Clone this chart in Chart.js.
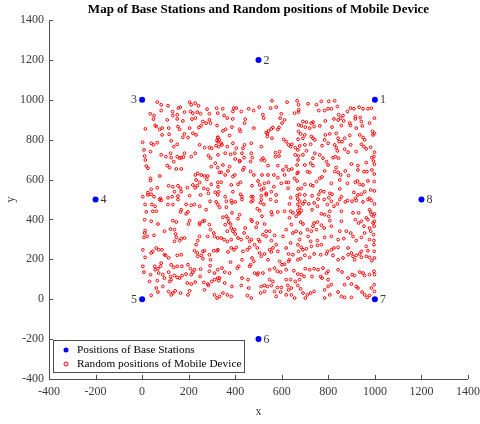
<!DOCTYPE html>
<html>
<head>
<meta charset="utf-8">
<script src="https://cdn.jsdelivr.net/npm/chart.js@4.4.0/dist/chart.umd.min.js"></script>
<style>
  html, body { margin: 0; padding: 0; background: #fff; }
  #wrap { width: 480px; height: 424px; }
</style>
</head>
<body>
<div id="wrap"><canvas id="map" width="480" height="424"></canvas></div>
<script>
// --- Dados ---
const chartTitle = 'Map of Base Stations and Random positions of Mobile Device';
const axisTicks = [-400, -200, 0, 200, 400, 600, 800, 1000, 1200, 1400];

// estações base (x, y, rótulo)
const baseX = [1000, 500, 0, -200, 0, 500, 1000, 1200];
const baseY = [1000, 1200, 1000, 500, 0, -200, 0, 500];
const baseLabels = ['1', '2', '3', '4', '5', '6', '7', '8'];

const legendLabels = ['Positions of Base Stations', 'Random positions of Mobile Device'];

// posições dos móveis (x, y)
const mobilePoints = [
  [65,988],[82,975],[111,970],[156,958],[164,963],[204,988],[211,975],[228,983],[242,970],[279,953],[320,958],
  [35,930],[51,921],[82,946],[131,941],[132,921],[151,925],[182,938],[208,941],[218,933],[237,938],[251,930],[289,930],[325,933],
  [49,903],[108,899],[151,904],[175,894],[214,903],[229,908],[261,891],[289,899],[294,883],
  [14,854],[56,871],[61,866],[75,851],[86,858],[114,858],[154,866],[161,852],[204,858],[244,861],[254,871],[275,883],[322,871],
  [86,824],[116,827],[182,829],[197,811],[218,832],[232,824],[175,812],[325,811],[331,799],[321,796],
  [2,787],[39,782],[49,774],[65,785],[125,794],[151,777],[136,765],[247,774],[268,760],[289,760],[299,757],[318,770],[329,765],
  [8,749],[36,740],[11,718],[82,724],[102,715],[125,710],[122,732],[151,715],[161,707],[168,710],[178,713],[182,732],[211,715],[228,732],[285,720],[294,707],[14,698],[136,690],
  [18,668],[25,657],[108,670],[118,660],[168,653],[147,653],[239,631],[297,665],[314,682],[325,660],
  [36,606],[36,595],[76,618],[229,623],[254,623],[268,618],[282,618],[232,598],[247,586],[278,601],[297,576],[237,569],[228,559],[325,586],
  [39,551],[65,559],[25,534],[39,526],[114,569],[132,564],[154,569],[165,556],[139,539],[168,539],[194,559],[218,573],[265,556],[282,551],[285,531],[251,523],[204,519],[154,517],[129,514],[111,509],[79,506],[51,514],[3,514],[25,523],[314,536],[325,523],

  [558,995],[623,988],[666,995],[346,955],[393,958],[405,958],[390,941],[458,955],[479,946],[503,963],[552,958],[576,963],[672,975],[426,941],
  [352,921],[366,908],[389,904],[443,903],[440,883],[519,925],[522,908],[598,930],[593,908],[612,899],[655,933],[672,938],[672,874],[601,883],
  [347,844],[359,852],[386,863],[419,852],[422,841],[480,858],[555,854],[562,861],[543,844],[533,836],[538,816],[558,807],[538,829],[583,852],[588,861],[326,811],[376,821],[672,841],
  [326,790],[340,782],[343,774],[366,765],[390,782],[405,757],[433,757],[440,774],[469,782],[512,765],[608,802],[619,790],[629,774],[638,765],[643,777],[658,760],[669,749],
  [326,724],[357,732],[380,727],[398,732],[400,703],[429,732],[438,710],[469,732],[473,710],[519,707],[526,695],[573,735],[572,715],[591,740],[588,718],[658,724],[672,718],[419,695],
  [347,673],[376,665],[419,690],[438,660],[466,690],[512,698],[541,670],[583,670],[605,648],[619,665],[629,648],[643,653],[666,673],[666,631],
  [332,636],[340,636],[369,643],[357,623],[390,615],[398,623],[433,648],[466,640],[515,623],[480,623],[498,593],[541,623],[566,623],[583,610],[612,623],[619,586],[655,606],[666,593],
  [326,564],[340,586],[383,573],[412,576],[423,586],[472,569],[505,573],[526,581],[543,586],[512,548],[523,556],[533,531],[566,564],[598,581],[627,556],[629,586],
  [329,539],[357,514],[390,539],[423,526],[429,514],[469,514],[476,514],[512,519],[533,523],[576,523],[638,509],[666,519],[669,502],[555,539],

  [713,980],[749,975],[770,992],[802,992],[827,995],[839,966],[813,955],[799,955],[784,946],[759,946],[895,958],[910,955],[932,963],[949,955],[970,955],[985,958],[882,941],[673,950],
  [844,925],[863,921],[853,908],[866,894],[842,899],[824,904],[787,894],[916,916],[937,911],[942,891],[916,904],[892,883],[895,871],[691,891],[706,888],[727,883],[734,888],[977,883],[998,908],
  [684,869],[701,863],[720,858],[739,866],[763,869],[816,863],[856,871],[920,858],[946,869],[990,841],[992,824],[998,832],
  [681,829],[699,824],[727,816],[734,807],[742,799],[784,799],[787,824],[806,829],[834,832],[842,807],[870,807],[892,821],[935,824],[949,811],[956,799],[670,802],[691,807],
  [699,774],[677,769],[724,777],[773,770],[799,782],[827,774],[834,760],[846,790],[859,790],[839,744],[870,752],[896,774],[942,777],[953,765],[963,754],[982,762],[706,744],
  [691,724],[742,732],[763,724],[734,707],[777,707],[792,690],[820,710],[830,715],[844,707],[885,737],[920,740],[987,710],[996,715],[998,737],[670,698],
  [699,673],[724,682],[734,670],[799,673],[834,660],[899,678],[927,670],[963,685],[994,693],[998,677],[670,636],[720,636],[710,640],
  [784,643],[827,640],[842,636],[853,623],[873,643],[887,620],[927,648],[953,640],[966,640],[987,648],[997,628],[997,590],[763,606],[773,613],
  [699,576],[724,573],[734,569],[749,590],[813,581],[849,598],[882,581],[916,586],[925,593],[935,576],[949,573],[970,593],[684,556],[670,553],
  [677,526],[699,523],[730,519],[759,526],[767,543],[781,539],[806,531],[816,526],[849,553],[856,514],[910,536],[927,523],[942,526],[956,539],[982,548],[998,543],[756,502],[802,509],[916,506],[977,506],

  [13,475],[42,475],[75,500],[82,495],[111,475],[132,475],[154,500],[189,475],[211,471],[225,475],[247,466],[292,491],[325,475],[318,488],[56,466],[46,441],[61,441],[168,449],[165,438],[189,428],[197,438],[275,449],[18,438],
  [11,399],[39,391],[68,377],[132,394],[147,387],[204,394],[199,377],[247,382],[261,391],[268,394],[247,374],[289,374],[294,349],[308,332],[311,315],[325,307],
  [13,344],[11,332],[8,310],[22,315],[51,320],[96,341],[122,352],[139,349],[144,327],[147,310],[168,304],[161,294],[182,307],[139,290],[239,294],[247,315],[232,273],[282,315],
  [3,248],[46,240],[61,257],[71,248],[85,248],[96,223],[101,220],[39,232],[114,207],[151,220],[168,223],[225,243],[237,232],[239,215],[254,220],[261,240],[268,243],[308,243],[322,243],[289,223],[294,198],[261,203],[13,210],
  [3,165],[54,165],[56,148],[68,153],[79,165],[82,181],[125,173],[136,160],[151,165],[171,165],[197,173],[208,153],[225,148],[251,151],[292,168],[325,148],[8,136],[36,123],[71,131],[89,123],[96,106],[114,136],[122,114],[139,119],[151,109],[161,106],[172,119],[189,126],[211,123],[218,136],[249,114],[289,140],[311,131],
  [32,89],[65,93],[118,89],[125,98],[89,64],[61,56],[194,81],[211,76],[228,86],[265,84],[282,76],[285,69],[299,89],[311,98],[325,106],[68,36],[39,19],[114,39],[125,22],[132,31],[142,42],[165,31],[204,42],[197,22],[311,22],[322,6],[268,47],

  [362,491],[383,495],[386,483],[400,488],[429,500],[469,488],[476,495],[512,500],[509,483],[523,475],[552,500],[576,491],[633,478],[669,475],[333,461],[362,461],[386,433],[412,404],[419,424],[469,399],[472,391],[495,454],[505,444],[555,438],[558,424],[583,438],[612,441],[638,441],[648,433],[669,444],[662,416],[672,428],[633,408],[515,416],
  [347,411],[362,416],[369,404],[372,387],[380,377],[357,374],[383,357],[398,349],[366,341],[390,341],[400,327],[383,299],[366,290],[352,299],[340,307],[412,307],[426,299],[438,332],[452,310],[462,290],[469,299],[443,357],[490,361],[495,382],[526,377],[533,341],[548,341],[519,324],[533,315],[500,299],[505,290],[555,294],[569,320],[605,315],[619,349],[641,374],[648,332],[662,341],[669,273],[638,282],
  [326,248],[369,237],[383,257],[395,248],[405,260],[433,240],[452,248],[462,260],[483,273],[495,257],[505,232],[526,227],[548,248],[562,257],[555,237],[576,273],[583,240],[619,257],[629,227],[648,223],[672,240],[380,186],[429,198],[415,165],[472,207],[480,190],[466,173],[512,215],[541,198],[591,190],[601,173],[612,176],[629,190],[633,198],[669,198],
  [343,156],[355,136],[376,131],[409,156],[462,165],[483,131],[498,131],[519,131],[548,148],[569,156],[581,140],[595,136],[619,148],[652,143],[669,126],[333,106],[329,93],[355,81],[429,106],[455,98],[495,123],[548,98],[562,89],[619,98],[638,98],[658,89],
  [386,64],[426,69],[458,56],[512,64],[526,69],[538,64],[555,69],[581,59],[598,59],[626,69],[629,47],[641,56],[669,69],[347,31],[333,14],[366,22],[383,14],[452,19],[469,6],[509,31],[526,39],[569,39],[576,14],[595,36],[641,22],[619,22],[655,6],

  [677,491],[691,478],[699,491],[716,478],[739,483],[782,500],[796,475],[813,491],[849,500],[839,478],[873,488],[882,495],[902,491],[920,495],[949,488],[985,495],[998,478],[970,500],[677,461],[684,444],[677,433],[730,449],[753,466],[770,428],[784,424],[806,441],[802,416],[824,466],[856,441],[906,433],[930,433],[977,449],[982,438],[985,424],[998,428],[963,408],[970,399],[994,416],
  [681,387],[691,377],[739,382],[753,387],[782,357],[806,394],[856,391],[916,399],[930,382],[942,391],[953,366],[977,357],[992,382],[998,391],[997,366],[681,332],[713,315],[710,349],[734,366],[727,341],[749,349],[770,371],[813,366],[849,341],[877,341],[896,332],[906,315],[920,294],[956,332],[982,341],[994,324],
  [677,299],[724,290],[753,294],[784,310],[813,315],[842,299],[867,304],[942,310],[977,299],[996,294],[684,260],[691,248],[706,253],[727,265],[753,270],[770,273],[796,240],[813,248],[824,257],[842,260],[885,257],[899,232],[942,240],[963,265],[970,243],[996,273],[997,240],
  [699,220],[720,210],[739,227],[767,223],[792,227],[820,220],[842,198],[863,207],[885,223],[906,215],[913,198],[935,227],[920,220],[942,210],[963,215],[977,210],[987,193],[998,207],[681,203],
  [720,148],[701,153],[739,153],[756,148],[777,156],[792,131],[799,140],[842,148],[859,136],[885,106],[902,123],[913,119],[935,136],[949,131],[956,119],[977,123],[996,140],[998,123],[684,123],[677,98],[696,114],[730,114],[767,114],[773,106],[799,98],
  [813,73],[870,73],[899,76],[920,64],[927,56],[985,56],[997,73],[681,52],[691,31],[710,22],[724,31],[739,39],[784,47],[799,64],[784,6],[806,22],[842,36],[856,14],[870,9],[899,9],[945,36],[956,22],[967,9],[977,19],[998,39],[701,6]
];

// --- Estilo ---
const SERIF = "'Liberation Serif', 'Times New Roman', serif";
const AXIS_COLOR = '#4d4d4d';
const TEXT_COLOR = '#3a3a3a';
const BLUE = '#0000ff';
const RED = '#ff0000';

// desenha título, eixos com ticks internos, rótulos das estações e legenda
const decorPlugin = {
  id: 'decor',
  afterDraw(chart) {
    const ctx = chart.ctx;
    const area = chart.chartArea;
    const xs = chart.scales.x;
    const ys = chart.scales.y;
    ctx.save();

    // eixos
    ctx.strokeStyle = AXIS_COLOR;
    ctx.lineWidth = 1;
    ctx.beginPath();
    ctx.moveTo(Math.round(area.left) + 0.5, area.top);
    ctx.lineTo(Math.round(area.left) + 0.5, Math.round(area.bottom) + 0.5);
    ctx.lineTo(area.right, Math.round(area.bottom) + 0.5);
    ctx.stroke();

    ctx.beginPath();
    xs.ticks.forEach(t => {
      const px = Math.round(xs.getPixelForValue(t.value)) + 0.5;
      ctx.moveTo(px, area.bottom);
      ctx.lineTo(px, area.bottom - 4);
    });
    ys.ticks.forEach(t => {
      const py = Math.round(ys.getPixelForValue(t.value)) + 0.5;
      ctx.moveTo(area.left, py);
      ctx.lineTo(area.left + 4, py);
    });
    ctx.stroke();

    // título
    ctx.fillStyle = '#000';
    ctx.font = 'bold 13px ' + SERIF;
    ctx.textAlign = 'center';
    ctx.textBaseline = 'middle';
    ctx.fillText(chartTitle, (area.left + area.right) / 2, 10);

    // rótulos das estações
    ctx.font = '12px ' + SERIF;
    ctx.fillStyle = TEXT_COLOR;
    baseLabels.forEach((lab, i) => {
      const px = xs.getPixelForValue(baseX[i]);
      const py = ys.getPixelForValue(baseY[i]);
      if (lab === '3' || lab === '5') {
        ctx.textAlign = 'right';
        ctx.fillText(lab, px - 5, py + 0.5);
      } else {
        ctx.textAlign = 'left';
        ctx.fillText(lab, px + 5, py + 0.5);
      }
    });

    // legenda
    const lx = 53.5, ly = 340.5, lw = 191, lh = 32;
    ctx.fillStyle = '#fff';
    ctx.fillRect(lx, ly, lw, lh);
    ctx.strokeStyle = AXIS_COLOR;
    ctx.strokeRect(lx, ly, lw, lh);
    ctx.fillStyle = BLUE;
    ctx.beginPath();
    ctx.arc(66, 350, 2.5, 0, Math.PI * 2);
    ctx.fill();
    ctx.strokeStyle = RED;
    ctx.lineWidth = 1;
    ctx.beginPath();
    ctx.arc(66, 364, 2, 0, Math.PI * 2);
    ctx.stroke();
    ctx.fillStyle = '#000';
    ctx.textAlign = 'left';
    ctx.font = '11.3px ' + SERIF;
    ctx.fillText(legendLabels[0], 77, 350);
    ctx.fillText(legendLabels[1], 77, 364);

    ctx.restore();
  }
};

function axisOptions(title, isX) {
  return {
    type: 'linear',
    min: axisTicks[0],
    max: axisTicks[axisTicks.length - 1],
    afterBuildTicks(scale) {
      scale.ticks = axisTicks.map(v => ({ value: v }));
    },
    afterFit(scale) {
      // tamanho fixo da área do gráfico, sem margem extra por causa dos rótulos
      scale.paddingLeft = 0;
      scale.paddingRight = 0;
      scale.paddingTop = 0;
      scale.paddingBottom = 0;
      if (isX) scale.height = 45; else scale.width = 49;
    },
    grid: { display: false, drawTicks: false },
    border: { display: false },
    ticks: {
      padding: isX ? 6 : 5,
      color: TEXT_COLOR,
      font: { family: SERIF, size: 12 },
      maxRotation: 0,
      autoSkip: false,
      callback: v => String(v)
    },
    title: {
      display: true,
      text: title,
      color: TEXT_COLOR,
      font: { family: SERIF, size: 12 },
      padding: { top: 4, bottom: 5 }
    }
  };
}

new Chart(document.getElementById('map'), {
  type: 'scatter',
  data: {
    datasets: [
      {
        label: legendLabels[0],
        data: baseX.map((x, i) => ({ x: x, y: baseY[i] })),
        backgroundColor: BLUE,
        borderColor: BLUE,
        pointRadius: 3,
        borderWidth: 0
      },
      {
        label: legendLabels[1],
        data: mobilePoints.map(p => ({ x: p[0], y: p[1] })),
        backgroundColor: 'rgba(0,0,0,0)',
        borderColor: RED,
        pointRadius: 1.4,
        borderWidth: 1
      }
    ]
  },
  options: {
    responsive: false,
    animation: false,
    devicePixelRatio: 1,
    layout: { autoPadding: false, padding: { top: 20, right: 12, left: 0, bottom: 0 } },
    plugins: {
      legend: { display: false },
      title: { display: false },
      tooltip: { enabled: false }
    },
    scales: {
      x: axisOptions('x', true),
      y: axisOptions('y', false)
    }
  },
  plugins: [decorPlugin]
});
</script>
</body>
</html>
